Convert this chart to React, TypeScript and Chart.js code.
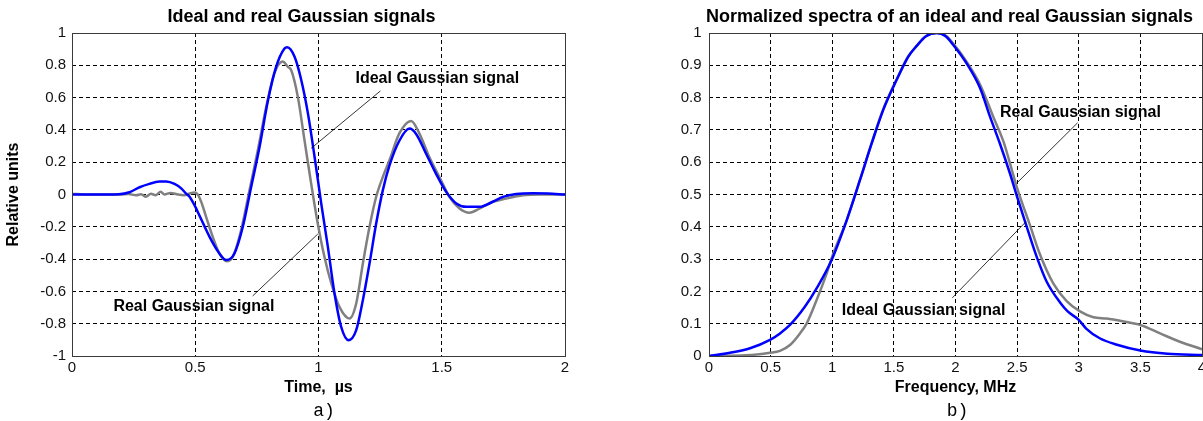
import React, { useEffect, useRef } from "react";
import { Chart, registerables } from "chart.js";

Chart.register(...registerables);

// ---------- (a) Ideal and real Gaussian signals (time domain) ----------
const timeIdealUs = [
  0, 0.1, 0.19, 0.233, 0.274, 0.314, 0.355, 0.382, 0.416, 0.443, 0.463, 0.477, 0.5, 0.517,
  0.558, 0.598, 0.626, 0.659, 0.693, 0.727, 0.761, 0.794, 0.828, 0.862, 0.873, 0.903, 0.93,
  0.957, 0.984, 1.011, 1.038, 1.065, 1.092, 1.122, 1.153, 1.18, 1.207, 1.234, 1.261, 1.288,
  1.328, 1.369, 1.396, 1.437, 1.477, 1.518, 1.559, 1.6, 1.653, 1.707, 1.748, 1.802, 1.87,
  1.93, 2.0,
];
const idealSignal = [
  0, 0, 0.002, 0.014, 0.045, 0.066, 0.08, 0.081, 0.066, 0.038, 0.005, -0.014, -0.075, -0.13,
  -0.262, -0.365, -0.406, -0.365, -0.2, 0.048, 0.296, 0.575, 0.79, 0.904, 0.912, 0.853, 0.709,
  0.503, 0.234, -0.055, -0.324, -0.613, -0.82, -0.902, -0.84, -0.654, -0.427, -0.18, 0.027,
  0.18, 0.333, 0.408, 0.375, 0.251, 0.128, 0.016, -0.055, -0.076, -0.076, -0.045, -0.015,
  0.003, 0.007, 0.006, 0.0,
];
const timeRealUs = [
  0, 0.05, 0.19, 0.23, 0.26, 0.28, 0.3, 0.32, 0.34, 0.36, 0.375, 0.4, 0.43, 0.456, 0.477,
  0.497, 0.51, 0.524, 0.544, 0.571, 0.598, 0.626, 0.652, 0.686, 0.72, 0.754, 0.788, 0.821,
  0.855, 0.876, 0.889, 0.916, 0.943, 0.97, 0.997, 1.024, 1.052, 1.085, 1.126, 1.153, 1.18,
  1.207, 1.234, 1.261, 1.288, 1.328, 1.376, 1.41, 1.45, 1.491, 1.531, 1.572, 1.613, 1.653,
  1.707, 1.748, 1.83, 1.9, 2.0,
];
const realSignal = [
  0.005, 0, 0, 0.003, -0.005, 0.002, -0.014, 0.004, -0.004, 0.017, 0, 0.01, 0, -0.004, 0.006,
  0.012, 0, -0.045, -0.138, -0.262, -0.365, -0.413, -0.386, -0.221, 0.027, 0.275, 0.544, 0.75,
  0.824, 0.79, 0.771, 0.606, 0.338, 0.07, -0.18, -0.386, -0.551, -0.696, -0.768, -0.675,
  -0.427, -0.2, -0.014, 0.109, 0.213, 0.378, 0.455, 0.375, 0.23, 0.107, -0.014, -0.087,
  -0.113, -0.087, -0.045, -0.03, -0.005, 0, 0,
];
const signalTicksX = [0, 0.5, 1, 1.5, 2];
const signalTicksY = [-1, -0.8, -0.6, -0.4, -0.2, 0, 0.2, 0.4, 0.6, 0.8, 1];

// ---------- (b) Normalized spectra ----------
const freqIdealMHz = [
  0, 0.17, 0.333, 0.495, 0.576, 0.657, 0.779, 0.874, 0.995, 1.117, 1.225, 1.32, 1.414, 1.523,
  1.617, 1.685, 1.76, 1.847, 1.92, 1.982, 2.09, 2.2, 2.28, 2.36, 2.442, 2.5, 2.578, 2.659,
  2.74, 2.85, 2.91, 3.0, 3.06, 3.17, 3.31, 3.5, 3.72, 4.0,
];
const idealSpectrum = [
  0, 0.01, 0.024, 0.05, 0.07, 0.096, 0.153, 0.21, 0.297, 0.42, 0.545, 0.658, 0.762, 0.855,
  0.927, 0.96, 0.99, 1.0, 0.99, 0.963, 0.906, 0.829, 0.741, 0.658, 0.565, 0.493, 0.4, 0.307,
  0.23, 0.165, 0.138, 0.112, 0.085, 0.055, 0.035, 0.017, 0.007, 0.003,
];
const freqRealMHz = [
  0, 0.3, 0.495, 0.576, 0.657, 0.738, 0.793, 0.874, 0.955, 1.009, 1.117, 1.225, 1.32, 1.414,
  1.523, 1.617, 1.685, 1.76, 1.847, 1.92, 1.982, 2.09, 2.2, 2.307, 2.388, 2.5, 2.604, 2.685,
  2.793, 2.902, 3.01, 3.119, 3.227, 3.375, 3.5, 3.66, 3.82, 4.0,
];
const realSpectrum = [
  0, 0.002, 0.01, 0.016, 0.034, 0.07, 0.101, 0.174, 0.256, 0.318, 0.42, 0.545, 0.66, 0.765,
  0.857, 0.928, 0.96, 0.99, 1.0, 0.992, 0.967, 0.911, 0.84, 0.74, 0.665, 0.52, 0.405, 0.315,
  0.225, 0.17, 0.138, 0.12, 0.116, 0.106, 0.096, 0.07, 0.044, 0.021,
];
const spectrumTicksX = [0, 0.5, 1, 1.5, 2, 2.5, 3, 3.5, 4];
const spectrumTicksY = [0, 0.1, 0.2, 0.3, 0.4, 0.5, 0.6, 0.7, 0.8, 0.9, 1];

// ---------- Annotations (data coordinates) ----------
const signalNotes = [
  { text: "Ideal Gaussian signal", at: [1.15, 0.72], from: [1.251, 0.641], to: [0.97, 0.286] },
  { text: "Real Gaussian signal", at: [0.168, -0.695], from: [0.733, -0.628], to: [0.997, -0.245] },
];
const spectrumNotes = [
  { text: "Real Gaussian signal", at: [2.361, 0.753], from: [2.991, 0.722], to: [2.502, 0.537] },
  { text: "Ideal Gaussian signal", at: [1.077, 0.142], from: [1.974, 0.18], to: [2.572, 0.416] },
];

const SANS = "'Liberation Sans', Arial, Helvetica, sans-serif";
const MONO = "'Liberation Mono', 'Courier New', monospace";

type Note = { text: string; at: number[]; from: number[]; to: number[] };

function toPoints(xs: number[], ys: number[]) {
  return xs.map((x, i) => ({ x, y: ys[i] }));
}

function makeDecor(cfg: {
  title: string;
  titleDx: number;
  panel: string;
  panelDx: number;
  notes: Note[];
}) {
  return {
    id: "figureDecor",
    afterDraw(chart: any) {
      const { ctx, chartArea: a, scales } = chart;
      const xs = scales.x;
      const ys = scales.y;
      ctx.save();
      // axes box
      ctx.setLineDash([]);
      ctx.strokeStyle = "#3a3a3a";
      ctx.lineWidth = 1;
      ctx.strokeRect(
        Math.round(a.left) + 0.5,
        Math.round(a.top) + 0.5,
        Math.round(a.right - a.left),
        Math.round(a.bottom - a.top)
      );
      const cx = (a.left + a.right) / 2;
      ctx.fillStyle = "#000";
      ctx.textAlign = "center";
      ctx.textBaseline = "middle";
      ctx.font = `bold 18px ${SANS}`;
      ctx.fillText(cfg.title, cx + cfg.titleDx, 17);
      ctx.font = `18px ${MONO}`;
      ctx.fillText(cfg.panel, cx + cfg.panelDx, 411);
      // annotations
      ctx.font = `bold 16px ${SANS}`;
      ctx.textAlign = "left";
      for (const n of cfg.notes) {
        ctx.fillStyle = "#000";
        ctx.fillText(n.text, xs.getPixelForValue(n.at[0]), ys.getPixelForValue(n.at[1]));
        ctx.beginPath();
        ctx.moveTo(xs.getPixelForValue(n.from[0]), ys.getPixelForValue(n.from[1]));
        ctx.lineTo(xs.getPixelForValue(n.to[0]), ys.getPixelForValue(n.to[1]));
        ctx.strokeStyle = "#000";
        ctx.lineWidth = 0.8;
        ctx.stroke();
      }
      ctx.restore();
    },
  };
}

function gridColor(min: number, max: number) {
  return (c: any) =>
    c.tick && (Math.abs(c.tick.value - min) < 1e-9 || Math.abs(c.tick.value - max) < 1e-9)
      ? "rgba(0,0,0,0)"
      : "#000";
}

function buildConfig(p: {
  ideal: { x: number; y: number }[];
  real: { x: number; y: number }[];
  xMin: number;
  xMax: number;
  yMin: number;
  yMax: number;
  xTicks: number[];
  yTicks: number[];
  xTitle: string;
  yTitle: string;
  yAxisWidth: number;
  yTickPad: number;
  padRight: number;
  decor: any;
}) {
  return {
    type: "line",
    data: {
      datasets: [
        {
          label: "Ideal Gaussian signal",
          data: p.ideal,
          borderColor: "#0000ff",
          borderWidth: 2.5,
          pointRadius: 0,
          cubicInterpolationMode: "monotone",
          fill: false,
        },
        {
          label: "Real Gaussian signal",
          data: p.real,
          borderColor: "#808080",
          borderWidth: 2.5,
          pointRadius: 0,
          cubicInterpolationMode: "monotone",
          fill: false,
        },
      ],
    },
    options: {
      responsive: false,
      animation: false,
      events: [],
      layout: { padding: { top: 33, right: p.padRight, left: 0, bottom: 0 } },
      plugins: {
        legend: { display: false },
        tooltip: { enabled: false },
        title: { display: false },
      },
      scales: {
        x: {
          type: "linear",
          min: p.xMin,
          max: p.xMax,
          afterBuildTicks: (s: any) => {
            s.ticks = p.xTicks.map((v) => ({ value: v }));
          },
          afterFit: (s: any) => {
            s.height = 65;
            s.paddingLeft = 0;
            s.paddingRight = 0;
          },
          ticks: {
            autoSkip: false,
            maxRotation: 0,
            padding: 3,
            color: "#111",
            font: { family: SANS, size: 15 },
            callback: (v: any) => String(v),
          },
          grid: { color: gridColor(p.xMin, p.xMax), lineWidth: 1, drawTicks: false },
          border: { display: false, dash: [4, 3] },
          title: p.xTitle
            ? {
                display: true,
                text: p.xTitle,
                color: "#000",
                font: { family: SANS, size: 16, weight: "bold" },
                padding: { top: 0, bottom: 23.4 },
              }
            : { display: false },
        },
        y: {
          type: "linear",
          min: p.yMin,
          max: p.yMax,
          afterBuildTicks: (s: any) => {
            s.ticks = p.yTicks.map((v) => ({ value: v }));
          },
          afterFit: (s: any) => {
            s.width = p.yAxisWidth;
          },
          ticks: {
            autoSkip: false,
            padding: p.yTickPad,
            color: "#111",
            font: { family: SANS, size: 15 },
            callback: (v: any) => String(v),
          },
          grid: { color: gridColor(p.yMin, p.yMax), lineWidth: 1, drawTicks: false },
          border: { display: false, dash: [4, 3] },
          title: p.yTitle
            ? {
                display: true,
                text: p.yTitle,
                color: "#000",
                font: { family: SANS, size: 16, weight: "bold" },
                padding: { top: 4.4, bottom: 0 },
              }
            : { display: false },
        },
      },
    },
    plugins: [p.decor],
  };
}

export default function App() {
  const leftRef = useRef<HTMLCanvasElement | null>(null);
  const rightRef = useRef<HTMLCanvasElement | null>(null);

  useEffect(() => {
    const left = new Chart(
      leftRef.current as HTMLCanvasElement,
      buildConfig({
        ideal: toPoints(timeIdealUs, idealSignal),
        real: toPoints(timeRealUs, realSignal),
        xMin: 0,
        xMax: 2,
        yMin: -1,
        yMax: 1,
        xTicks: signalTicksX,
        yTicks: signalTicksY,
        xTitle: "Time,  \u00b5s",
        yTitle: "Relative units",
        yAxisWidth: 72,
        yTickPad: 6,
        padRight: 35,
        decor: makeDecor({
          title: "Ideal and real Gaussian signals",
          titleDx: -17,
          panel: "a)",
          panelDx: 5.5,
          notes: signalNotes,
        }),
      }) as any
    );
    const right = new Chart(
      rightRef.current as HTMLCanvasElement,
      buildConfig({
        ideal: toPoints(freqIdealMHz, idealSpectrum),
        real: toPoints(freqRealMHz, realSpectrum),
        xMin: 0,
        xMax: 4,
        yMin: 0,
        yMax: 1,
        xTicks: spectrumTicksX,
        yTicks: spectrumTicksY,
        xTitle: "Frequency, MHz",
        yTitle: "",
        yAxisWidth: 109,
        yTickPad: 7.5,
        padRight: 48,
        decor: makeDecor({
          title: "Normalized spectra of an ideal and real Gaussian signals",
          titleDx: -6,
          panel: "b)",
          panelDx: 2,
          notes: spectrumNotes,
        }),
      }) as any
    );
    return () => {
      left.destroy();
      right.destroy();
    };
  }, []);

  return (
    <div
      style={{
        position: "absolute",
        left: 0,
        top: 0,
        width: 1203,
        height: 421,
        overflow: "hidden",
        background: "#fff",
      }}
    >
      <canvas
        ref={leftRef}
        width={600}
        height={421}
        style={{ position: "absolute", left: 0, top: 0, width: 600, height: 421 }}
      />
      <canvas
        ref={rightRef}
        width={650}
        height={421}
        style={{ position: "absolute", left: 600, top: 0, width: 650, height: 421 }}
      />
    </div>
  );
}
